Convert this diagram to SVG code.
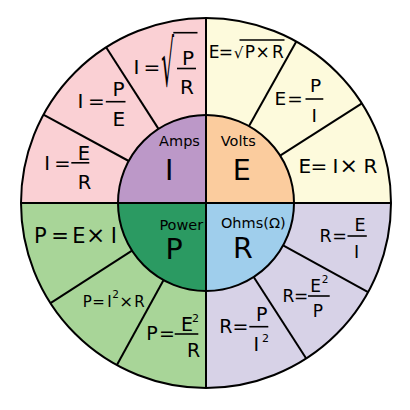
<svg xmlns="http://www.w3.org/2000/svg" width="410" height="410" viewBox="0 0 410 410">
<style>
.f{font-family:"DejaVu Sans","Liberation Sans",sans-serif;fill:#000;text-anchor:middle}
.ln{stroke:#000;stroke-width:2;fill:none;stroke-linecap:butt}
.bar{stroke:#000;stroke-width:1.6}
</style>
<rect width="410" height="410" fill="#fff"/>
<g id="sectors">
<path d="M206,203 L21,203 A185,185 0 0 1 206,18 Z" fill="#FAD0D4"/>
<path d="M206,203 L206,18 A185,185 0 0 1 391,203 Z" fill="#FDFADC"/>
<path d="M206,203 L391,203 A185,185 0 0 1 206,388 Z" fill="#D7D2E7"/>
<path d="M206,203 L206,388 A185,185 0 0 1 21,203 Z" fill="#A8D598"/>
</g>
<g id="hub">
<path d="M206,203 L118,203 A88,88 0 0 1 206,115 Z" fill="#BC98C8"/>
<path d="M206,203 L206,115 A88,88 0 0 1 294,203 Z" fill="#FBCC9E"/>
<path d="M206,203 L294,203 A88,88 0 0 1 206,291 Z" fill="#9FCEEC"/>
<path d="M206,203 L206,291 A88,88 0 0 1 118,203 Z" fill="#2B9A62"/>
</g>
<g id="connectors">
<line class="ln" x1="128.7" y1="161" x2="43.4" y2="114.7"/>
<line class="ln" x1="158.5" y1="128.9" x2="106.1" y2="47.3"/>
<line class="ln" x1="280.1" y1="155.6" x2="361.9" y2="103.3"/>
<line class="ln" x1="248.9" y1="126.2" x2="296.3" y2="41.5"/>
<line class="ln" x1="283.1" y1="245.4" x2="368.1" y2="292.1"/>
<line class="ln" x1="253.7" y1="277" x2="306.2" y2="358.5"/>
<line class="ln" x1="132" y1="250.7" x2="50.5" y2="303.2"/>
<line class="ln" x1="163.6" y1="280.1" x2="116.9" y2="365.1"/>
<line class="ln" x1="206" y1="18" x2="206" y2="388"/>
<line class="ln" x1="21" y1="203" x2="391" y2="203"/>
<circle class="ln" cx="206" cy="203" r="88"/>
<circle class="ln" cx="206" cy="203" r="185"/>
</g>
<g id="amps">
<text class="f" x="179.5" y="146" font-size="14.5">Amps</text>
<text class="f" x="169.3" y="180" font-size="28.5">I</text>
</g>
<g id="volts">
<text class="f" x="238.3" y="146" font-size="14.5">Volts</text>
<text class="f" x="241.7" y="180" font-size="28.5">E</text>
</g>
<g id="power">
<text class="f" x="181.3" y="230" font-size="14.5">Power</text>
<text class="f" x="174.2" y="259" font-size="28.5">P</text>
</g>
<g id="ohms">
<text class="f" x="253.3" y="228.3" font-size="14.5">Ohms(Ω)</text>
<text class="f" x="242.8" y="257.7" font-size="28.5">R</text>
</g>
<g id="i-sqrt">
<text class="f" font-size="20" y="73.5"><tspan x="136.5">I</tspan><tspan x="151.8">=</tspan></text>
<text class="f" font-size="20" transform="translate(167.5,86) scale(1,3.2)" x="0" y="0">√</text>
<line class="bar" x1="173.3" y1="32.7" x2="197.5" y2="32.7"/>
<text class="f" font-size="20" x="188" y="64.5">P</text>
<line class="bar" x1="177" y1="68.5" x2="196" y2="68.5"/>
<text class="f" font-size="20" x="187" y="94">R</text>
</g>
<g id="e-sqrt">
<text class="f" font-size="17" y="57.5"><tspan x="214">E</tspan><tspan x="225.8">=</tspan></text>
<text class="f" font-size="15" x="238.5" y="57.5">√</text>
<text class="f" font-size="17" y="57.5"><tspan x="250">P</tspan><tspan x="262.5">×</tspan><tspan x="278">R</tspan></text>
<line class="bar" x1="239.5" y1="40" x2="284.5" y2="40"/>
</g>
<g id="i-pe">
<text class="f" font-size="20" y="107.5"><tspan x="80.5">I</tspan><tspan x="96.5">=</tspan></text>
<text class="f" font-size="20" x="118.5" y="95.5">P</text>
<line class="bar" x1="105.8" y1="101.7" x2="125.5" y2="101.7"/>
<text class="f" font-size="20" x="118.7" y="126">E</text>
</g>
<g id="i-er">
<text class="f" font-size="19.5" y="170"><tspan x="47.2">I</tspan><tspan x="62.5">=</tspan></text>
<text class="f" font-size="19.5" x="84" y="159.7">E</text>
<line class="bar" x1="71.3" y1="162.8" x2="89.3" y2="162.8"/>
<text class="f" font-size="19.5" x="84.5" y="189">R</text>
</g>
<g id="e-pi">
<text class="f" font-size="18.5" y="105"><tspan x="280.3">E</tspan><tspan x="295">=</tspan></text>
<text class="f" font-size="18.5" x="315.5" y="92">P</text>
<line class="bar" x1="305.5" y1="99" x2="323.3" y2="99"/>
<text class="f" font-size="18.5" x="314.2" y="121.7">I</text>
</g>
<g id="e-ir">
<text class="f" font-size="20" y="172.5"><tspan x="304.8">E</tspan><tspan x="318.8">=</tspan><tspan x="335.5">I</tspan><tspan x="348.7" font-size="22">×</tspan><tspan x="370.4">R</tspan></text>
</g>
<g id="p-ei">
<text class="f" font-size="21" y="243.3"><tspan x="40.4">P</tspan><tspan x="60">=</tspan><tspan x="79">E</tspan><tspan x="95.7" font-size="23">×</tspan><tspan x="113.8">I</tspan></text>
</g>
<g id="p-i2r">
<text class="f" font-size="15" y="306.7"><tspan x="87.3">P</tspan><tspan x="98.5">=</tspan><tspan x="109.5">I</tspan><tspan x="126.2" font-size="16.5">×</tspan><tspan x="139.5">R</tspan></text>
<text class="f" font-size="10.5" x="115.7" y="297.5">2</text>
</g>
<g id="p-e2r">
<text class="f" font-size="19" y="340"><tspan x="152">P</tspan><tspan x="167">=</tspan></text>
<text class="f" font-size="19" x="187" y="330.5">E</text>
<text class="f" font-size="11" x="195.5" y="322">2</text>
<line class="bar" x1="174.7" y1="334" x2="198.3" y2="334"/>
<text class="f" font-size="19" x="193.7" y="356.7">R</text>
</g>
<g id="r-ei">
<text class="f" font-size="17.5" y="241.7"><tspan x="325.5">R</tspan><tspan x="339.6">=</tspan></text>
<text class="f" font-size="17.5" x="360" y="230.5">E</text>
<line class="bar" x1="347.5" y1="236" x2="366.8" y2="236"/>
<text class="f" font-size="17.5" x="356.7" y="258.3">I</text>
</g>
<g id="r-e2p">
<text class="f" font-size="17" y="301.5"><tspan x="288.3">R</tspan><tspan x="301">=</tspan></text>
<text class="f" font-size="17" x="315.7" y="291.7">E</text>
<text class="f" font-size="10.5" x="325.2" y="283.3">2</text>
<line class="bar" x1="308" y1="296" x2="329.7" y2="296"/>
<text class="f" font-size="17" x="318" y="317">P</text>
</g>
<g id="r-pi2">
<text class="f" font-size="19" y="333"><tspan x="225.8">R</tspan><tspan x="240.5">=</tspan></text>
<text class="f" font-size="19" x="261.8" y="321">P</text>
<line class="bar" x1="249.3" y1="326.7" x2="268.3" y2="326.7"/>
<text class="f" font-size="19" x="256.3" y="351">I</text>
<text class="f" font-size="11" x="265.6" y="341.5">2</text>
</g>
</svg>
